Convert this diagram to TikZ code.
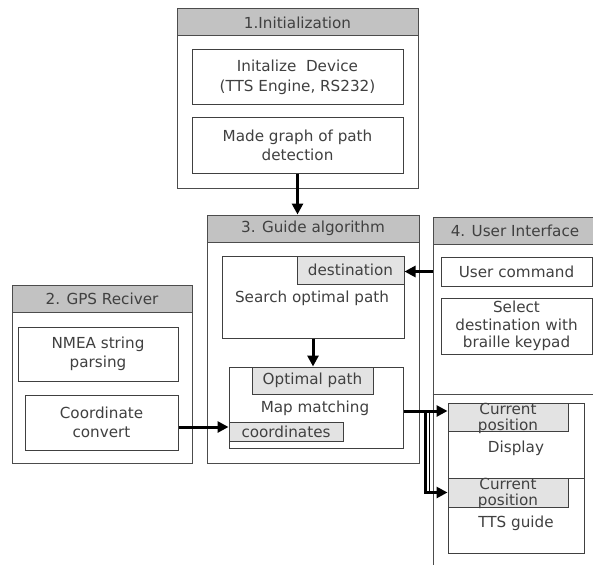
\documentclass[tikz,border=0pt]{standalone}
\usepackage{fontspec}
\setmainfont{DejaVu Sans}
\usetikzlibrary{arrows.meta}
\begin{document}
\begin{tikzpicture}[x=1pt,y=-1pt,
  every node/.style={font=\fontsize{15.2}{19.5}\selectfont, text=black!75},
  outer/.style={draw=black!70, line width=1pt, fill=white, inner sep=0pt},
  head/.style={draw=black!70, line width=1pt, fill=black!24, inner sep=0pt},
  inbox/.style={draw=black!75, line width=1pt, fill=white, inner sep=0pt, align=center},
  tag/.style={draw=black!75, line width=1pt, fill=black!11, inner sep=0pt},
  lbl/.style={inner sep=0pt, align=center},
  arr/.style={line width=3pt, -{Triangle[length=11pt,width=11pt]}}]
\clip (0,0) rectangle (593,564);
\fill[white] (0,0) rectangle (593,564);
% ---- 1. Initialization
\node[outer, minimum width=241pt, minimum height=179pt] (b1) at (297.5,98.5) {};
\node[head, minimum width=241pt, minimum height=27pt] (b1h) at (297.5,22.5) {1.Initialization};
\node[inbox, minimum width=211pt, minimum height=55pt] (init) at (297.5,77.5) {Initalize\ \ Device\\(TTS Engine, RS232)};
\node[inbox, minimum width=211pt, minimum height=55pt] (graph) at (297.5,145.5) {Made graph of path\\detection};
% ---- 3. Guide algorithm
\node[outer, minimum width=212pt, minimum height=248pt] (b3) at (313,339) {};
\node[head, minimum width=212pt, minimum height=27pt] (b3h) at (313,228.5) {3. Guide algorithm};
\node[inbox, minimum width=182pt, minimum height=82pt] (search) at (313,297) {};
\node[tag, minimum width=107pt, minimum height=28pt] (dest) at (350.5,270) {destination};
\node[lbl] (searcht) at (312,298) {Search optimal path};
\node[inbox, minimum width=174pt, minimum height=81pt] (mapm) at (316,407.5) {};
\node[tag, minimum width=121pt, minimum height=27pt] (optp) at (312.5,380.5) {Optimal path};
\node[lbl] (mapmt) at (315,408) {Map matching};
\node[tag, minimum width=114pt, minimum height=19pt] (coords) at (286,431.5) {coordinates};
% ---- 2. GPS Reciver
\node[outer, minimum width=180pt, minimum height=178pt] (b2) at (102,374) {};
\node[head, minimum width=180pt, minimum height=27pt] (b2h) at (102,298.5) {2. GPS Reciver};
\node[inbox, minimum width=160pt, minimum height=54pt] (nmea) at (98,354) {NMEA string\\parsing};
\node[inbox, minimum width=153pt, minimum height=55pt] (cconv) at (101.5,422.5) {Coordinate\\convert};
% ---- 4. User Interface
\node[outer, minimum width=180pt, minimum height=400pt] (b4) at (523,417) {};
\node[head, minimum width=180pt, minimum height=27pt] (b4h) at (523,230.5) {};
\node[lbl] (b4t) at (515,230.5) {4. User Interface};
\draw[draw=black!70, line width=1pt] (b4.west |- 0,394) coordinate (sep) -- (b4.east |- 0,394);
\node[inbox, minimum width=151pt, minimum height=29pt] (ucmd) at (516.5,271.5) {User command};
\node[inbox, minimum width=151pt, minimum height=56pt, font=\fontsize{15.2}{17.5}\selectfont] (sel) at (516.5,326) {Select\\destination with\\braille keypad};
\node[inbox, minimum width=136pt, minimum height=75pt] (disp) at (516,440.5) {};
\node[tag, minimum width=120pt, minimum height=28pt] (cp1) at (508,417) {};
\node[lbl, font=\fontsize{15.2}{16}\selectfont] (cp1t) at (508,418) {Current\\position};
\node[lbl] (dispt) at (516,448) {Display};
\node[inbox, minimum width=136pt, minimum height=75pt] (tts) at (516,515.5) {};
\node[tag, minimum width=120pt, minimum height=29pt] (cp2) at (508,492.5) {};
\node[lbl, font=\fontsize{15.2}{16}\selectfont] (cp2t) at (508,493.5) {Current\\position};
\node[lbl] (ttst) at (516,523) {TTS guide};
% ---- connectors
\draw[arr] (graph.south) -- (graph.south |- b3h.north);
\draw[arr] (search.south) -- (search.south |- mapm.north);
\draw[arr] (ucmd.west -| b4.west) -- (ucmd.west -| dest.east);
\draw[arr] ([yshift=-4.5pt]cconv.east) -- ([yshift=4.5pt]coords.west);
\coordinate (j1) at ([yshift=-3.5pt]mapm.east);
\coordinate (j2) at (425,411);
\draw[arr] (j1) -- (j1 -| cp1.west);
\draw[arr] (j2) |- (cp2.west);
\draw[line width=1pt] (429.5,411) -- (429.5,493);
\end{tikzpicture}
\end{document}
